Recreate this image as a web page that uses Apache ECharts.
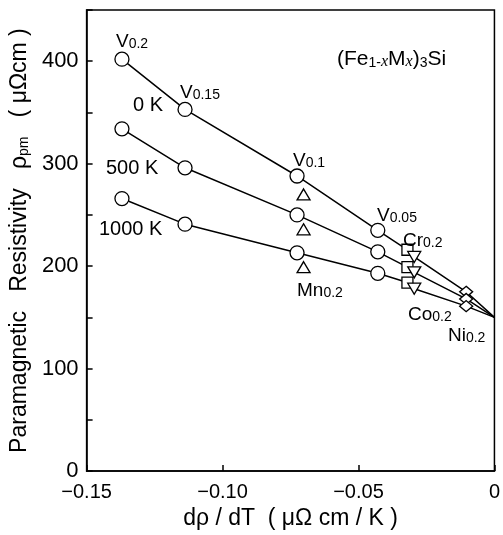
<!DOCTYPE html>
<html>
<head>
<meta charset="utf-8">
<script src="https://cdn.jsdelivr.net/npm/echarts@6/dist/echarts.min.js"></script>
<style>html,body{margin:0;padding:0;background:#fff;}#c{width:503px;height:535px;}</style>
</head>
<body>
<div id="c"></div>
<script>
// ---- data ----
const xV = [-0.137, -0.1138, -0.0726, -0.0429];      // V0.2, V0.15, V0.1, V0.05
const rhoV_0K    = [402, 353, 288, 235];
const rhoV_500K  = [334, 296, 250, 214];
const rhoV_1000K = [266, 241, 213, 193];
const xMn = -0.0702; const rhoMn = [270, 236, 199];  // 0K, 500K, 1000K
const xCr = -0.0320; const rhoCr = [216, 199, 184];
const xCo = -0.0295; const rhoCo = [209, 194, 178];
const xNi = -0.0104; const rhoNi = [175, 168, 161];
const xEnd = 0;      const rhoEnd = [150, 150, 150];  // common extrapolation at dρ/dT = 0
const xTicks = [-0.15, -0.10, -0.05, 0];
const yTicks = [0, 100, 200, 300, 400];

const FONT = 'Liberation Sans';
const chart = echarts.init(document.getElementById('c'), null, {renderer: 'canvas'});

function lineData(i) {
  const rv = [rhoV_0K, rhoV_500K, rhoV_1000K][i];
  const pts = xV.map((x, k) => [x, rv[k]]);
  pts.push([xCr, rhoCr[i]], [xCo, rhoCo[i]], [xNi, rhoNi[i]], [xEnd, rhoEnd[i]]);
  return pts;
}
const allV = [];
[rhoV_0K, rhoV_500K, rhoV_1000K].forEach(r => xV.forEach((x, k) => allV.push([x, r[k]])));
const mk = (x, arr) => arr.map(v => [x, v]);

const markerStyle = {color: '#fff', borderColor: '#000', borderWidth: 1.3, opacity: 1};
const lineStyle = {color: '#000', width: 1.5};

const series = [0, 1, 2].map(i => ({
  type: 'line', data: lineData(i), symbol: 'none', lineStyle: lineStyle, z: 2, silent: true
}));
series.push(
  {type: 'scatter', data: allV, symbol: 'circle', symbolSize: 14, itemStyle: markerStyle, z: 5},
  {type: 'scatter', data: mk(xMn, rhoMn), symbol: 'triangle', symbolSize: [13, 11], itemStyle: markerStyle, z: 5},
  {type: 'scatter', data: mk(xCr, rhoCr), symbol: 'rect', symbolSize: 11, itemStyle: markerStyle, z: 5},
  {type: 'scatter', data: mk(xCo, rhoCo), symbol: 'triangle', symbolRotate: 180, symbolSize: [13, 11], itemStyle: markerStyle, z: 6},
  {type: 'scatter', data: mk(xNi, rhoNi), symbol: 'diamond', symbolSize: [13, 11], itemStyle: markerStyle, z: 5}
);

const subRich = {
  s: {fontFamily: FONT, fontSize: 14, verticalAlign: 'bottom', lineHeight: 19, color: '#000'},
  b: {fontFamily: FONT, fontSize: 19, verticalAlign: 'bottom', lineHeight: 19, color: '#000'}
};
function elemLabel(text, x, y) {
  return {type: 'text', left: x, top: y, z: 20,
    style: {text: text, rich: subRich, fill: '#000', font: '19px "' + FONT + '"'}};
}
function plainLabel(text, x, y, size) {
  return {type: 'text', left: x, top: y, z: 20,
    style: {text: text, fill: '#000', font: size + 'px "' + FONT + '"'}};
}

const option = {
  animation: false,
  backgroundColor: '#fff',
  grid: {left: 86, right: 5, top: 10, bottom: 59, show: true, borderColor: '#000', borderWidth: 1.5, backgroundColor: 'transparent'},
  xAxis: {
    type: 'value', min: -0.15, max: 0, interval: 0.05,
    axisLine: {show: true, onZero: false, lineStyle: {color: '#000', width: 1.5}},
    axisTick: {show: true, inside: true, length: 6, lineStyle: {color: '#000', width: 1.5}},
    splitLine: {show: false},
    axisLabel: {color: '#000', fontFamily: FONT, fontSize: 20, margin: 11,
      formatter: v => { const t = xTicks.find(tk => Math.abs(tk - v) < 1e-9); if (t === undefined) return ''; return t === 0 ? '0' : '\u2212' + Math.abs(t).toFixed(2); }},
    name: 'd\u03c1 / dT  ( \u03bc\u03a9 cm / K )', nameLocation: 'middle', nameGap: 34,
    nameTextStyle: {color: '#000', fontFamily: FONT, fontSize: 23}
  },
  yAxis: {
    type: 'value', min: 0, max: 450, interval: 50,
    axisLine: {show: true, onZero: false, lineStyle: {color: '#000', width: 1.5}},
    axisTick: {show: true, inside: true, length: 6, lineStyle: {color: '#000', width: 1.5}},
    splitLine: {show: false},
    axisLabel: {color: '#000', fontFamily: FONT, fontSize: 22, margin: 8,
      formatter: v => yTicks.indexOf(Math.round(v)) >= 0 ? String(Math.round(v)) : ''},
    name: 'Paramagnetic   Resistivity   \u03c1{s|pm}   ( \u03bc\u03a9cm )', nameLocation: 'middle', nameGap: 53, nameRotate: 90,
    nameTextStyle: {color: '#000', fontFamily: FONT, fontSize: 23, lineHeight: 23,
      rich: {s: {fontFamily: FONT, fontSize: 14, verticalAlign: 'bottom', lineHeight: 23, color: '#000'}}}
  },
  graphic: [
    elemLabel('{b|V}{s|0.2}', 116, 32),
    elemLabel('{b|V}{s|0.15}', 180, 83),
    elemLabel('{b|V}{s|0.1}', 293, 151),
    elemLabel('{b|V}{s|0.05}', 377, 206),
    elemLabel('{b|Cr}{s|0.2}', 403, 231),
    elemLabel('{b|Mn}{s|0.2}', 297, 281),
    elemLabel('{b|Co}{s|0.2}', 408, 305),
    elemLabel('{b|Ni}{s|0.2}', 448, 326),
    plainLabel('0 K', 133, 95, 20),
    plainLabel('500 K', 106, 158, 20),
    plainLabel('1000 K', 99, 219, 20),
    {type: 'text', left: 337, top: 49, z: 20,
      style: {text: '{b|(Fe}{s|1-}{si|x}{b|M}{si|x}{b|)}{s|3}{b|Si}', fill: '#000',
        rich: {
          b: {fontFamily: FONT, fontSize: 21, verticalAlign: 'bottom', lineHeight: 22, color: '#000'},
          s: {fontFamily: FONT, fontSize: 14, verticalAlign: 'bottom', lineHeight: 20, color: '#000'},
          si: {fontFamily: 'Liberation Serif', fontStyle: 'italic', fontSize: 16, verticalAlign: 'bottom', lineHeight: 20, color: '#000'}
        }}}
  ],
  series: series
};
chart.setOption(option);
</script>
</body>
</html>
